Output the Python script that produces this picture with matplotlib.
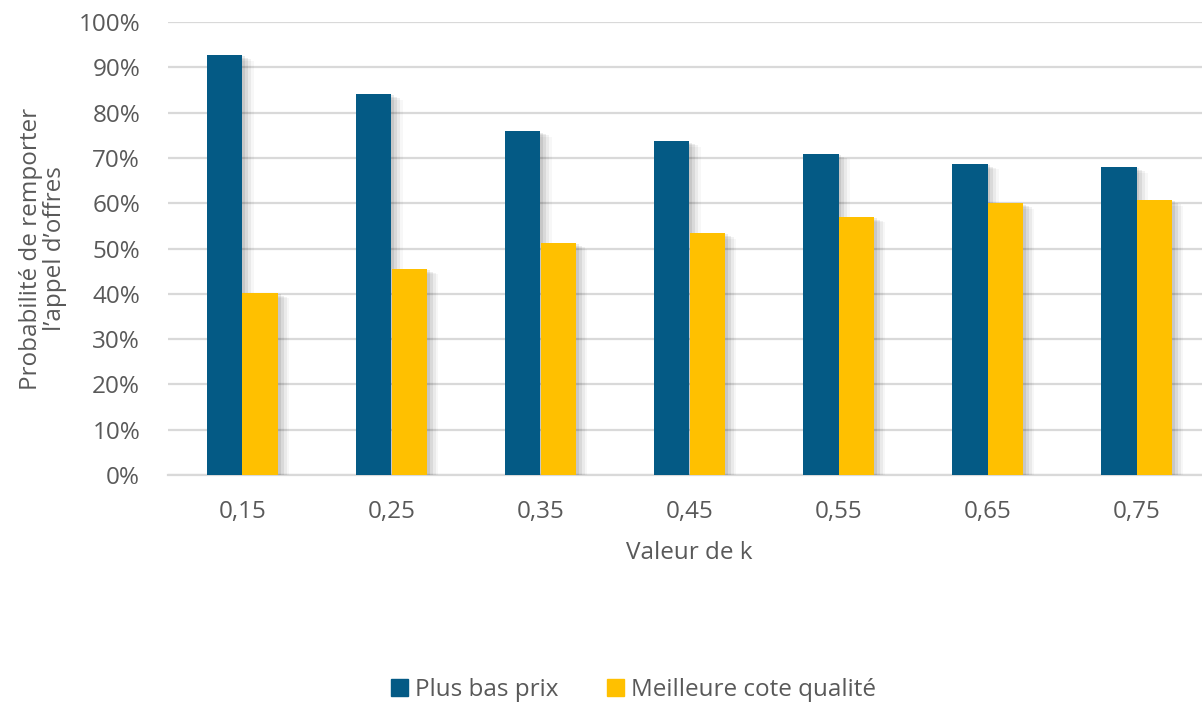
import matplotlib
matplotlib.use("Agg")
import numpy as np
import matplotlib.pyplot as plt
import matplotlib.patheffects as pe
from matplotlib.patches import Patch
from matplotlib.ticker import PercentFormatter

# --- Données ---
k_labels = ["0,15", "0,25", "0,35", "0,45", "0,55", "0,65", "0,75"]
plus_bas_prix = [92.7, 84.1, 75.9, 73.7, 70.9, 68.7, 68.0]
meilleure_qualite = [40.2, 45.5, 51.2, 53.4, 57.0, 60.0, 60.7]

BLUE = "#045A85"
YELLOW = "#FFC000"
TXT = "#595959"
FS = 17.5

plt.rcParams['font.family'] = ['Open Sans', 'DejaVu Sans']

fig = plt.figure(figsize=(12.02, 7.04), dpi=100)
ax = fig.add_axes([168 / 1202, 1 - 475 / 704, 1043 / 1202, 453 / 704])

x = np.arange(len(k_labels))
w = 0.24

# ombre portée approximative (décalée vers la droite)
shadow = [pe.SimplePatchShadow(offset=(o, -o * 0.5), shadow_rgbFace="black", alpha=a)
          for o, a in [(8, 0.03), (6, 0.05), (4, 0.07), (2, 0.08)]] + [pe.Normal()]

b1 = ax.bar(x - w / 2, plus_bas_prix, w, color=BLUE, zorder=3)
b2 = ax.bar(x + w / 2, meilleure_qualite, w, color=YELLOW, zorder=3)
for b in list(b1) + list(b2):
    b.set_path_effects(shadow)

ax.set_xlim(-0.5, len(k_labels) - 0.5)
ax.set_ylim(0, 100)
ax.set_yticks(np.arange(0, 101, 10))
ax.yaxis.set_major_formatter(PercentFormatter(decimals=0))
ax.set_xticks(x)
ax.set_xticklabels(k_labels)

ax.grid(axis="y", color="#D9D9D9", linewidth=1.6, zorder=0)
for s in ["top", "right", "left"]:
    ax.spines[s].set_visible(False)
ax.spines["bottom"].set_color("#D9D9D9")
ax.spines["bottom"].set_linewidth(1.6)
ax.tick_params(length=0, labelsize=FS, colors=TXT)
ax.tick_params(axis="y", pad=20)
ax.tick_params(axis="x", pad=18)

ax.set_xlabel("Valeur de k", fontsize=FS, color=TXT, labelpad=12)
ax.set_ylabel("Probabilité de remporter\nl\u2019appel d\u2019offres", fontsize=FS, color=TXT,
              labelpad=8, linespacing=1.0)

handles = [Patch(color=BLUE, label="Plus bas prix"),
           Patch(color=YELLOW, label="Meilleure cote qualité")]
fig.legend(handles=handles, loc="center", bbox_to_anchor=(0.527, 1 - 690 / 704), ncol=2,
           frameon=False, fontsize=FS, labelcolor=TXT, handlelength=0.7, handleheight=0.7,
           handletextpad=0.3, columnspacing=2.0)

fig.savefig("out.png", dpi=100)
